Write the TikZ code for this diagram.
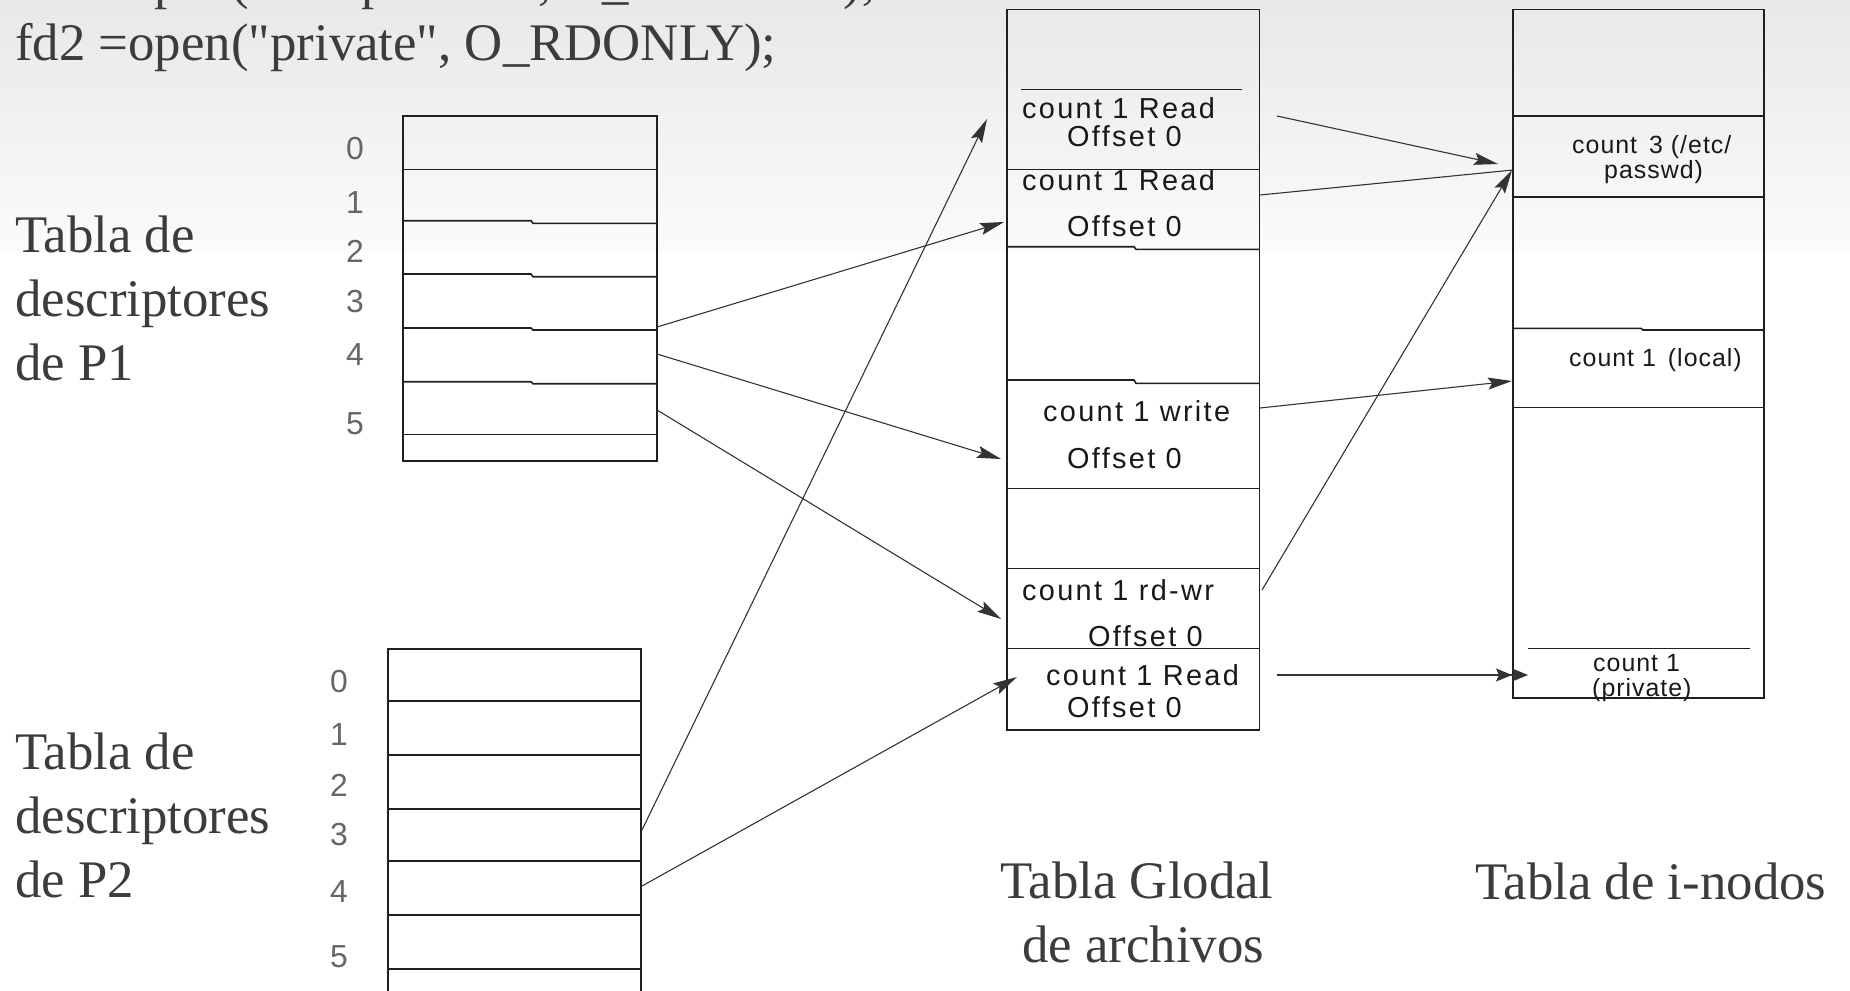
\documentclass[tikz,border=0pt]{standalone}
\usepackage{fontspec}
\setmainfont{Liberation Serif}
\newfontfamily\codefont{Liberation Serif}[Ligatures=TeXOff]
\newfontfamily\digitfont{Liberation Sans}
\newfontfamily\cellfont[LetterSpace=8]{Liberation Sans}
\newfontfamily\inodefont[LetterSpace=4]{Liberation Sans}
\usetikzlibrary{arrows.meta}
\definecolor{ink}{HTML}{3C3C3C}
\definecolor{bgtop}{HTML}{E8E8E8}
\definecolor{bgmid}{HTML}{FBFBFB}

\begin{document}
\begin{tikzpicture}[x=1bp,y=-1bp,
  frame/.style={line width=1.8bp, draw=black!88},
  rule/.style={line width=1.6bp, draw=black!88},
  arr/.style={line width=1.1bp, draw=black!80, -{Stealth[length=24bp,width=12bp,inset=4bp]}},
  dblarr/.style={line width=1.1bp, draw=black!80, -{Stealth[length=16bp,width=13bp,inset=3bp]Stealth[length=16bp,width=13bp,inset=3bp]}},
  link/.style={line width=1.1bp, draw=black!80},
  title/.style={font=\fontsize{53}{64}\selectfont, text=ink, inner sep=0pt, anchor=base west},
  code/.style={title, font=\codefont\fontsize{53}{64}\selectfont},
  idx/.style={font=\digitfont\fontsize{32}{32}\selectfont, text=black!60, inner sep=0pt},
  cell/.style={font=\cellfont\fontsize{29}{29}\selectfont, text=black!90, inner sep=0pt, anchor=base west},
  inode/.style={font=\inodefont\fontsize{25}{25}\selectfont, text=black!90, inner sep=0pt, anchor=base west}]

\useasboundingbox (0,0) rectangle (1850,990);
\clip (0,0) rectangle (1850,990);

% page background: light grey band fading into white
\fill[white] (0,0) rectangle (1850,990);
\shade[top color=bgtop, bottom color=bgmid] (0,0) rectangle (1850,252);

% system calls
\node[code] (code1) at (15,-2) {fd1 =open("/etc/passwd", O\_RDONLY);};
\node[code] (code2) at (15,60) {fd2 =open("private", O\_RDONLY);};

% captions
\node[title] (p1a) at (15,252) {Tabla de};
\node[title] (p1b) at (15,316) {descriptores};
\node[title] (p1c) at (15,380) {de P1};
\node[title] (p2a) at (15,769) {Tabla de};
\node[title] (p2b) at (15,833) {descriptores};
\node[title] (p2c) at (15,897) {de P2};
\node[title] (gta) at (1000,898) {Tabla Glodal};
\node[title] (gtb) at (1022,962) {de archivos};
\node[title] (itt) at (1475,899) {Tabla de i-nodos};

% ---------- descriptor table of P1 ----------
\draw[frame] (403,116) rectangle (657,461);
\draw[rule] (403,169.5) -- (657,169.5);
\draw[rule] (403,220.7) -- (531,220.7) -- (533,223.3) -- (657,223.3);
\draw[rule] (403,274.0) -- (531,274.0) -- (533,276.7) -- (657,276.7);
\draw[rule] (403,328.0) -- (531,328.0) -- (533,330.0) -- (657,330.0);
\draw[rule] (403,381.7) -- (531,381.7) -- (533,383.7) -- (657,383.7);
\draw[rule] (403,434.5) -- (657,434.5);
\node[idx] (a0) at (355,149) {0};
\node[idx] (a1) at (355,203) {1};
\node[idx] (a2) at (355,251) {2};
\node[idx] (a3) at (355,302) {3};
\node[idx] (a4) at (355,355) {4};
\node[idx] (a5) at (355,424) {5};

% ---------- descriptor table of P2 ----------
\draw[frame] (388,1010) -- (388,649) -- (641,649) -- (641,1010);
\foreach \yy in {701,755,809,861,915,969}
  \draw[rule] (388,\yy) -- (641,\yy);
\node[idx] (b0) at (339,682) {0};
\node[idx] (b1) at (339,735) {1};
\node[idx] (b2) at (339,785) {2};
\node[idx] (b3) at (339,835) {3};
\node[idx] (b4) at (339,892) {4};
\node[idx] (b5) at (339,957) {5};

% ---------- global file table ----------
\draw[frame] (1007,9.5) rectangle (1259.5,730);
\draw[rule] (1021,89.3) -- (1242,89.3);
\draw[rule] (1007,169.3) -- (1259.5,169.3);
\draw[rule] (1007,246.7) -- (1134,246.7) -- (1136,249.3) -- (1259.5,249.3);
\draw[rule] (1007,380.0) -- (1134,380.0) -- (1136,383.3) -- (1259.5,383.3);
\draw[rule] (1007,488.3) -- (1259.5,488.3);
\draw[rule] (1007,568.3) -- (1259.5,568.3);
\draw[rule] (1007,648.3) -- (1259.5,648.3);

\node[cell] (g1a) at (1022,118) {count 1 Read};
\node[cell] (g1b) at (1067,146.5) {Offset 0};
\node[cell] (g2a) at (1022,190) {count 1 Read};
\node[cell] (g2b) at (1067,236.5) {Offset 0};
\node[cell] (g3a) at (1043,421.5) {count 1 write};
\node[cell] (g3b) at (1067,468) {Offset 0};
\node[cell] (g4a) at (1022,600) {count 1 rd-wr};
\node[cell] (g4b) at (1088,646.5) {Offset 0};
\node[cell] (g5a) at (1046,685) {count 1 Read};
\node[cell] (g5b) at (1067,717) {Offset 0};

% ---------- i-node table ----------
\draw[frame] (1513.3,9.5) rectangle (1764.3,698.3);
\draw[rule] (1513.3,116) -- (1764.3,116);
\draw[rule] (1513.3,196.7) -- (1764.3,196.7);
\draw[rule] (1513.3,328.3) -- (1641,328.3) -- (1643,330) -- (1764.3,330);
\draw[rule] (1513.3,407.3) -- (1764.3,407.3);
\draw[rule] (1528,648.3) -- (1750,648.3);

\node[inode] (n1a) at (1572,153) {count\, 3 (/etc/};
\node[inode] (n1b) at (1604,178) {passwd)};
\node[inode] (n2) at (1569,366.5) {count 1\, (local)};
\node[inode] (n3a) at (1593,671.5) {count 1};
\node[inode] (n3b) at (1592,696) {(private)};

% ---------- connector end points ----------
\coordinate (s1) at (657,327);
\coordinate (s2) at (657,354);
\coordinate (s3) at (657,410);
\coordinate (s4) at (642,830);
\coordinate (s5) at (642,886);
\coordinate (t1) at (987,119);
\coordinate (t2) at (1004,222);
\coordinate (t3) at (1001,459);
\coordinate (t4) at (1001,619);
\coordinate (t5) at (1017,677);

\coordinate (g1) at (1277,116);
\coordinate (g2) at (1260,195);
\coordinate (g3) at (1260,408);
\coordinate (g4) at (1262,590);
\coordinate (g5) at (1277,675);
\coordinate (i1) at (1498,164);
\coordinate (i2) at (1513,170);
\coordinate (i3) at (1512,381);
\coordinate (i4) at (1512,170);
\coordinate (i5) at (1528,675);

% descriptors -> global file table
\draw[arr] (s1) -- (t2);
\draw[arr] (s2) -- (t3);
\draw[arr] (s3) -- (t4);
\draw[arr] (s4) -- (t1);
\draw[arr] (s5) -- (t5);

% global file table -> i-nodes
\draw[arr] (g1) -- (i1);
\draw[link] (g2) -- (i2);
\draw[arr] (g3) -- (i3);
\draw[arr] (g4) -- (i4);
\draw[dblarr] (g5) -- (i5);

\end{tikzpicture}
\end{document}
